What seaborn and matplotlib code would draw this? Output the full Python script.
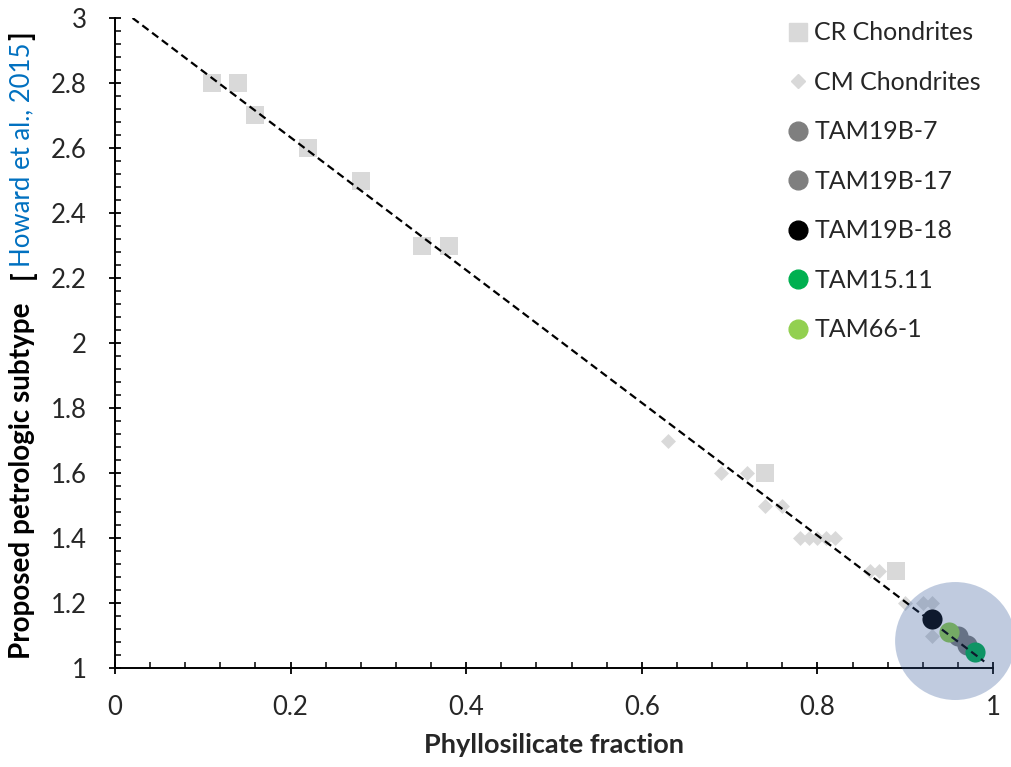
import numpy as np
import pandas as pd
import seaborn as sns
from matplotlib import pyplot as plt
from matplotlib.patches import Ellipse
from matplotlib.lines import Line2D
from matplotlib.ticker import MultipleLocator, FuncFormatter

# CR / CM chondrites (Howard et al., 2015)
cr_x = [0.11, 0.14, 0.16, 0.22, 0.28, 0.35, 0.38, 0.74, 0.89]
cr_y = [2.8, 2.8, 2.7, 2.6, 2.5, 2.3, 2.3, 1.6, 1.3]
cm_x = [0.63, 0.69, 0.72, 0.74, 0.76, 0.78, 0.79, 0.80, 0.81, 0.82, 0.86, 0.87, 0.90, 0.92, 0.93, 0.93]
cm_y = [1.7, 1.6, 1.6, 1.5, 1.5, 1.4, 1.4, 1.4, 1.4, 1.4, 1.3, 1.3, 1.2, 1.2, 1.2, 1.1]

# TAM micrometeorites
tam_names = ['TAM19B-7', 'TAM19B-17', 'TAM19B-18', 'TAM15.11', 'TAM66-1']
tam_x = [0.96, 0.97, 0.93, 0.98, 0.95]
tam_y = [1.10, 1.07, 1.15, 1.05, 1.11]
tam_colors = ['#7F7F7F', '#7F7F7F', '#000000', '#00B050', '#92D050']

# dashed trend line end points
fit_x = [0.02, 0.99]
fit_y = [3.0, 1.02]

sns.set_theme(style='white')
plt.rcParams['font.family'] = ['Lato', 'DejaVu Sans']

fig = plt.figure(figsize=(10.12, 7.67), dpi=100)
ax = fig.add_axes([115 / 1012, 99 / 767, 878 / 1012, 650 / 767])

cr = pd.DataFrame({'x': cr_x, 'y': cr_y})
cm = pd.DataFrame({'x': cm_x, 'y': cm_y})
sns.scatterplot(data=cr, x='x', y='y', marker='s', s=160, color='#D9D9D9', linewidth=0, ax=ax, zorder=2)
sns.scatterplot(data=cm, x='x', y='y', marker='D', s=58, color='#D9D9D9', linewidth=0, ax=ax, zorder=2)
for name, x, y, c in zip(tam_names, tam_x, tam_y, tam_colors):
    sns.scatterplot(x=[x], y=[y], marker='o', s=210, color=c, linewidth=0, ax=ax, zorder=3)

sns.lineplot(x=fit_x, y=fit_y, color='black', linestyle=(0, (3.5, 2)), linewidth=1.6, ax=ax, zorder=4)

ax.add_patch(Ellipse((0.957, 1.083), 0.137, 0.363, facecolor='#2F5597', alpha=0.3,
                     edgecolor='none', clip_on=False, zorder=5))

ax.set_xlim(0, 1)
ax.set_ylim(1, 3)
ax.xaxis.set_major_locator(MultipleLocator(0.2))
ax.xaxis.set_minor_locator(MultipleLocator(0.04))
ax.yaxis.set_major_locator(MultipleLocator(0.2))
ax.yaxis.set_minor_locator(MultipleLocator(0.04))
fmt = FuncFormatter(lambda v, p: '{:g}'.format(round(v, 2)))
ax.xaxis.set_major_formatter(fmt)
ax.yaxis.set_major_formatter(fmt)
ax.tick_params(which='major', direction='inout', length=9, width=1.3, labelsize=18.5, color='black')
ax.tick_params(which='minor', direction='in', length=4, width=1.1, color='black')
ax.tick_params(axis='x', which='both', bottom=True, pad=15)
ax.tick_params(axis='y', which='both', left=True, pad=16)
sns.despine(ax=ax)
for sp in ['left', 'bottom']:
    ax.spines[sp].set_color('black')
    ax.spines[sp].set_linewidth(1.4)

ax.set_xlabel('Phyllosilicate fraction', fontsize=19.5, fontweight='bold', labelpad=9)
ax.set_ylabel('')

handles = [Line2D([], [], marker='s', color='#D9D9D9', linestyle='', markersize=13),
           Line2D([], [], marker='D', color='#D9D9D9', linestyle='', markersize=7)]
handles += [Line2D([], [], marker='o', color=c, linestyle='', markersize=13.5) for c in tam_colors]
labels = ['CR Chondrites', 'CM Chondrites'] + tam_names
fig.legend(handles, labels, loc='upper left', bbox_to_anchor=(0.754, 1.0015), frameon=False,
           fontsize=18, labelspacing=1.06, handletextpad=0.15, handlelength=1.0)

# multi-coloured y label
fig.canvas.draw()
renderer = fig.canvas.get_renderer()
parts = [('Proposed petrologic subtype', 'black', 'bold', 20, 24),
         ('[', 'black', 'bold', 20, 3),
         ('Howard et al., 2015', '#0070C0', 'normal', 18.5, 3),
         (']', 'black', 'bold', 20, 0)]
texts = []
for s, c, w, fs, gap in parts:
    t = fig.text(0, 0, s, rotation=90, color=c, fontweight=w, fontsize=fs, ha='center', va='bottom')
    texts.append((t, t.get_window_extent(renderer).height, gap))
total = sum(h + g for _, h, g in texts)
y0 = (767 - 345) - total / 2
for t, h, g in texts:
    t.set_position((22 / 1012, y0 / 767))
    y0 += h + g

fig.savefig('out.png', dpi=100)
